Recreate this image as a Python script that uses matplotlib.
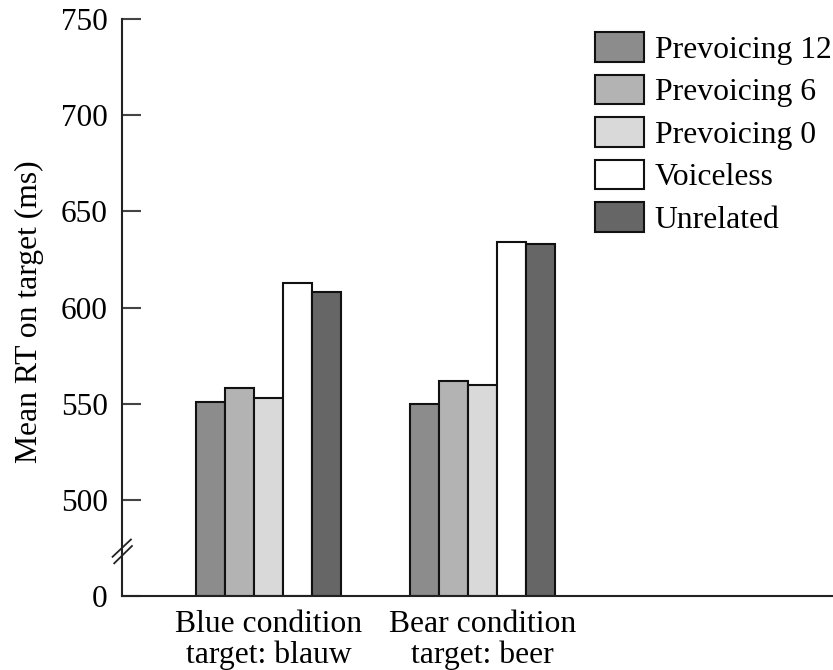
import numpy as np
import matplotlib
matplotlib.use("Agg")
import matplotlib.pyplot as plt

plt.rcParams['font.family'] = ['Liberation Serif', 'DejaVu Serif']

# Mean RT per condition and prime type
conditions = ["Blue condition\ntarget: blauw", "Bear condition\ntarget: beer"]
series = ["Prevoicing 12", "Prevoicing 6", "Prevoicing 0", "Voiceless", "Unrelated"]
prevoicing_12 = [551, 550]
prevoicing_6 = [558, 562]
prevoicing_0 = [553, 559.5]
voiceless = [612.5, 634]
unrelated = [608, 633]
colors = ["#8c8c8c", "#b3b3b3", "#d9d9d9", "#ffffff", "#666666"]
yticks = [0, 500, 550, 600, 650, 700, 750]


# broken y axis: 0..500 squeezed into the space of 50 ms
def fwd(v):
    v = np.asarray(v, dtype=float)
    return np.where(v >= 500, v, 450 + v * 0.1)


def inv(y):
    y = np.asarray(y, dtype=float)
    return np.where(y >= 500, y, (y - 450) * 10)


fig = plt.figure(figsize=(8.33, 6.7), dpi=100)
ax = fig.add_axes([0.146, 0.1104, 0.854, 0.8612])
ax.set_yscale('function', functions=(fwd, inv))

x = np.arange(len(conditions))
w = 0.1355
values = [prevoicing_12, prevoicing_6, prevoicing_0, voiceless, unrelated]
for i, (name, vals, c) in enumerate(zip(series, values, colors)):
    ax.bar(x + (i - 2) * w, vals, w, color=c, edgecolor='#111111',
           linewidth=1.5, label=name, zorder=2)

ax.set_ylim(0, 750)
ax.set_xlim(-0.687, 2.64)
ax.set_yticks(yticks)
ax.set_yticklabels([str(t) for t in yticks])
ax.set_xticks(x)
ax.set_xticklabels(conditions)

for s in ['top', 'right']:
    ax.spines[s].set_visible(False)
for s in ['left', 'bottom']:
    ax.spines[s].set_linewidth(1.5)
    ax.spines[s].set_color('#222222')

ax.tick_params(axis='y', direction='in', length=14, width=1.5, color='#444444',
               labelsize=22.5, pad=10)
ax.tick_params(axis='x', length=0, labelsize=22.8, pad=10)
for lab in ax.get_xticklabels():
    lab.set_linespacing(1.08)

ax.set_ylabel("Mean RT on target (ms)", fontsize=22.8)
ax.yaxis.set_label_coords(-0.109, 0.492)

# axis break marks
ax.plot([-0.0127, 0.0131], [0.068, 0.098], transform=ax.transAxes,
        color='#222222', lw=1.3, clip_on=False, zorder=3)
ax.plot([-0.0104, 0.0145], [0.0567, 0.0867], transform=ax.transAxes,
        color='#222222', lw=1.3, clip_on=False, zorder=3)

ax.legend(loc='upper left', bbox_to_anchor=(0.665, 0.977), frameon=False,
          fontsize=22.8, handlelength=1.55, handleheight=1.05, handletextpad=0.35,
          labelspacing=0.315, borderaxespad=0, borderpad=0)

fig.savefig("out.png", dpi=100, facecolor='white')
